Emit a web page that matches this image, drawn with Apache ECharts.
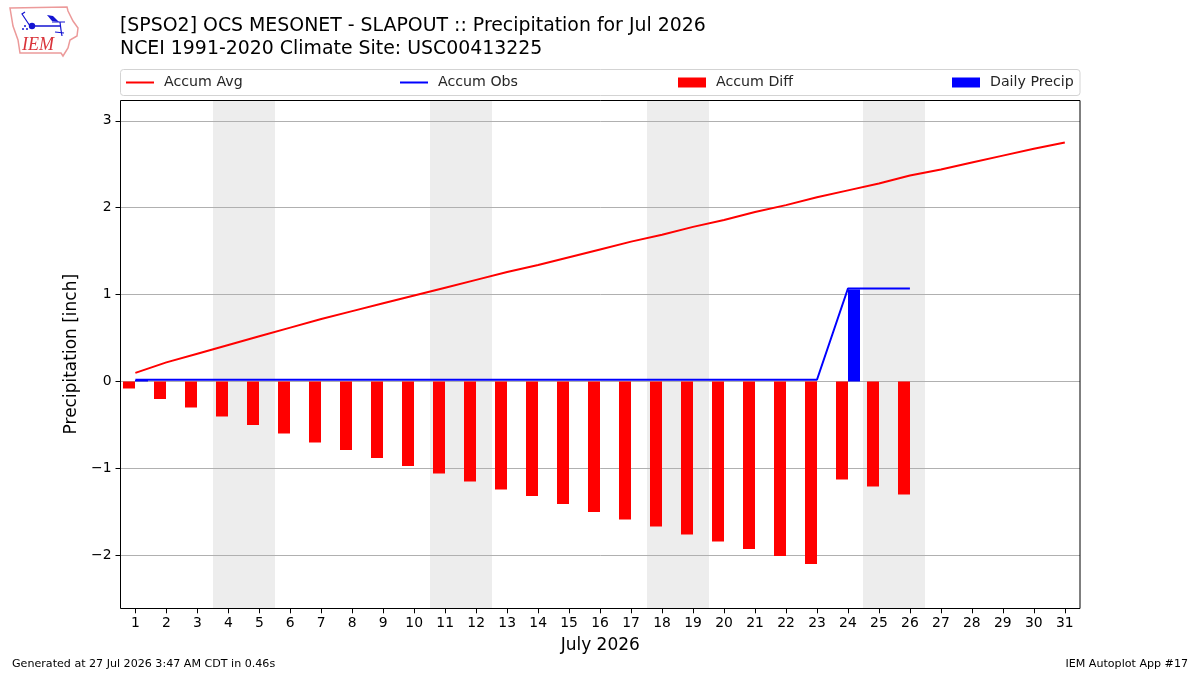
<!DOCTYPE html>
<html>
<head>
<meta charset="utf-8">
<style>html,body{margin:0;padding:0;background:#fff}#chart{width:1200px;height:675px}</style>
<script src="https://cdn.jsdelivr.net/npm/echarts@6/dist/echarts.min.js"></script>
</head>
<body>
<div id="chart"></div>
<script>
// Daily and accumulated precipitation at one station for July 2026, in inches.
const days = [1,2,3,4,5,6,7,8,9,10,11,12,13,14,15,16,17,18,19,20,21,22,23,24,25,26,27,28,29,30,31];
const accumAvg = [0.10,0.22,0.32,0.42,0.52,0.62,0.72,0.81,0.90,0.99,1.08,1.17,1.26,1.34,1.43,1.52,1.61,1.69,1.78,1.86,1.95,2.03,2.12,2.20,2.28,2.37,2.44,2.52,2.60,2.68,2.75];
const accumObs = [0.02,0.02,0.02,0.02,0.02,0.02,0.02,0.02,0.02,0.02,0.02,0.02,0.02,0.02,0.02,0.02,0.02,0.02,0.02,0.02,0.02,0.02,0.02,1.07,1.07,1.07];
const accumDiff = [-0.08,-0.20,-0.30,-0.40,-0.50,-0.60,-0.70,-0.79,-0.88,-0.97,-1.06,-1.15,-1.24,-1.32,-1.41,-1.50,-1.59,-1.67,-1.76,-1.84,-1.93,-2.01,-2.10,-1.13,-1.21,-1.30];
const dailyPrecip = [0.02,0,0,0,0,0,0,0,0,0,0,0,0,0,0,0,0,0,0,0,0,0,0,1.06,0,0];
const weekendSpans = [[3.5,5.5],[10.5,12.5],[17.5,19.5],[24.5,26.5]];
const yTicks = [-2,-1,0,1,2,3];
const titleLines = ['[SPSO2] OCS MESONET - SLAPOUT :: Precipitation for Jul 2026','NCEI 1991-2020 Climate Site: USC00413225'];
const footerLeft = 'Generated at 27 Jul 2026 3:47 AM CDT in 0.46s';
const footerRight = 'IEM Autoplot App #17';

const FONT = '"DejaVu Sans", sans-serif';
const yMin = -2.61, yMax = 3.24;
const LOGO_BLUE = '#1414d2';

// Bars sit beside the day tick: deficit to the left, daily rain to the right.
function barRenderer(color, offsetFrom, offsetTo) {
  return function (params, api) {
    const day = api.value(0), val = api.value(1);
    if (!val) return null;
    const a = api.coord([day + offsetFrom, 0]);
    const b = api.coord([day + offsetTo, val]);
    const x0 = Math.round(a[0]), x1 = Math.round(b[0]);
    const y0 = Math.round(Math.min(a[1], b[1]) * 2) / 2, y1 = Math.round(Math.max(a[1], b[1]) * 2) / 2;
    return { type: 'rect', shape: { x: x0, y: y0, width: x1 - x0, height: Math.max(y1 - y0, 1) }, style: { fill: color } };
  };
}

function legendEntry(name, left, h) {
  return {
    data: [{ name: name, icon: 'rect' }], left: left, top: 73, itemWidth: 28, itemHeight: h,
    itemGap: 0, selectedMode: false, padding: 0,
    textStyle: { fontFamily: FONT, fontSize: 14.2, color: '#262626', padding: [2, 0, 0, 5], lineHeight: 17 }
  };
}

const option = {
  animation: false,
  backgroundColor: '#fff',
  title: {
    text: titleLines.join('\n'), left: 120, top: 15, padding: 0,
    textStyle: { fontFamily: FONT, fontSize: 18.9, fontWeight: 'normal', color: '#000', lineHeight: 23 }
  },
  legend: [
    legendEntry('Accum Avg', 126, 2),
    legendEntry('Accum Obs', 400, 2),
    legendEntry('Accum Diff', 678, 10),
    legendEntry('Daily Precip', 952, 10)
  ],
  grid: { left: 120.5, right: 120, top: 100, bottom: 66.7, show: false },
  xAxis: {
    type: 'value', min: 0.52, max: 31.49, z: 1.5,
    name: 'July 2026', nameLocation: 'middle', nameGap: 29,
    nameTextStyle: { fontFamily: FONT, fontSize: 17, color: '#000' },
    axisLine: { show: false, onZero: false },
    axisTick: { show: true, length: 5, customValues: days, lineStyle: { color: '#000', width: 1 } },
    axisLabel: { customValues: days, fontFamily: FONT, fontSize: 13.9, color: '#000', margin: 8 },
    splitLine: { show: false }
  },
  yAxis: {
    type: 'value', min: yMin, max: yMax, z: 1.5,
    name: 'Precipitation [inch]', nameLocation: 'middle', nameGap: 37, nameRotate: 90,
    nameTextStyle: { fontFamily: FONT, fontSize: 17, color: '#000' },
    axisLine: { show: false, onZero: false },
    axisTick: { show: true, length: 5, customValues: yTicks, lineStyle: { color: '#000', width: 1 } },
    axisLabel: { customValues: yTicks, fontFamily: FONT, fontSize: 13.9, color: '#000', margin: 9,
      formatter: v => String(v).replace('-', '\u2212') },
    splitLine: { show: true, customValues: yTicks, lineStyle: { color: '#b0b0b0', width: 1 } }
  },
  series: [
    {
      // Weekend bands, kept underneath the grid lines
      name: 'Weekend', type: 'custom', z: 1, silent: true, legendHoverLink: false,
      data: weekendSpans,
      encode: { x: [0, 1] },
      renderItem: (params, api) => {
        const a = api.coord([api.value(0), yMax]);
        const b = api.coord([api.value(1), yMin]);
        return { type: 'rect', shape: { x: Math.round(a[0]), y: a[1], width: Math.round(b[0]) - Math.round(a[0]), height: b[1] - a[1] }, style: { fill: '#ededed' } };
      }
    },
    {
      name: 'Accum Diff', type: 'custom', z: 2, itemStyle: { color: '#ff0000' },
      data: accumDiff.map((v, i) => [days[i], v]),
      encode: { x: 0, y: 1 },
      renderItem: barRenderer('#ff0000', -0.4, 0)
    },
    {
      name: 'Daily Precip', type: 'custom', z: 2, itemStyle: { color: '#0000ff' },
      data: dailyPrecip.map((v, i) => [days[i], v]),
      encode: { x: 0, y: 1 },
      renderItem: barRenderer('#0000ff', 0, 0.4)
    },
    {
      name: 'Accum Avg', type: 'line', z: 3, showSymbol: false, symbol: 'none',
      itemStyle: { color: '#ff0000' }, lineStyle: { color: '#ff0000', width: 2 },
      data: accumAvg.map((v, i) => [days[i], v])
    },
    {
      name: 'Accum Obs', type: 'line', z: 3, showSymbol: false, symbol: 'none',
      itemStyle: { color: '#0000ff' }, lineStyle: { color: '#0000ff', width: 2 },
      data: accumObs.map((v, i) => [days[i], v])
    }
  ],
  graphic: [
    // Legend frame
    { type: 'rect', z: -1, shape: { x: 120.5, y: 69.5, width: 959.5, height: 26, r: 3 }, style: { fill: '#fff', stroke: '#d3d3d3', lineWidth: 1 } },
    // Plot frame, above the weekend bands
    { type: 'rect', z: 100, shape: { x: 120.5, y: 100.5, width: 959.5, height: 508 }, style: { fill: 'none', stroke: '#000', lineWidth: 1 } },
    // Footer notes
    { type: 'text', left: 12, top: 659, style: { text: footerLeft, font: '11.1px ' + FONT, fill: '#000' } },
    { type: 'text', right: 12, top: 659, style: { text: footerRight, font: '11.1px ' + FONT, fill: '#000' } },
    // Station logo: state outline, wind barb sketch and lettering
    { type: 'polygon', shape: { points: [[10,8],[67,7],[68,11],[73,21],[78,28],[77,36],[70,40],[68,48],[63,56],[61,53],[20,53],[18,40],[13,26]] }, style: { fill: '#fff', stroke: '#ec9a9a', lineWidth: 1.5 } },
    { type: 'line', shape: { x1: 30, y1: 26, x2: 60, y2: 26 }, style: { stroke: LOGO_BLUE, lineWidth: 1.5 } },
    { type: 'polyline', shape: { points: [[30,26],[22,14],[25,12]] }, style: { fill: 'none', stroke: LOGO_BLUE, lineWidth: 1.2 } },
    { type: 'polygon', shape: { points: [[47,15],[53,16],[59,22],[52,21]] }, style: { fill: LOGO_BLUE } },
    { type: 'line', shape: { x1: 52, y1: 22, x2: 65, y2: 22 }, style: { stroke: LOGO_BLUE, lineWidth: 1 } },
    { type: 'polyline', shape: { points: [[60,22],[61,30],[62,36]] }, style: { fill: 'none', stroke: LOGO_BLUE, lineWidth: 1.2 } },
    { type: 'line', shape: { x1: 55, y1: 32, x2: 64, y2: 33 }, style: { stroke: LOGO_BLUE, lineWidth: 1.2 } },
    { type: 'circle', shape: { cx: 32, cy: 26, r: 3.2 }, style: { fill: LOGO_BLUE } },
    { type: 'circle', shape: { cx: 25, cy: 26, r: 1 }, style: { fill: LOGO_BLUE } },
    { type: 'circle', shape: { cx: 23, cy: 29, r: 1 }, style: { fill: LOGO_BLUE } },
    { type: 'circle', shape: { cx: 27, cy: 29, r: 1 }, style: { fill: LOGO_BLUE } },
    { type: 'text', left: 22, top: 36, style: { text: 'IEM', font: 'italic 18px "Liberation Serif", serif', fill: '#d9333a' } }
  ]
};

echarts.init(document.getElementById('chart'), null, { renderer: 'canvas' }).setOption(option);
</script>
</body>
</html>
